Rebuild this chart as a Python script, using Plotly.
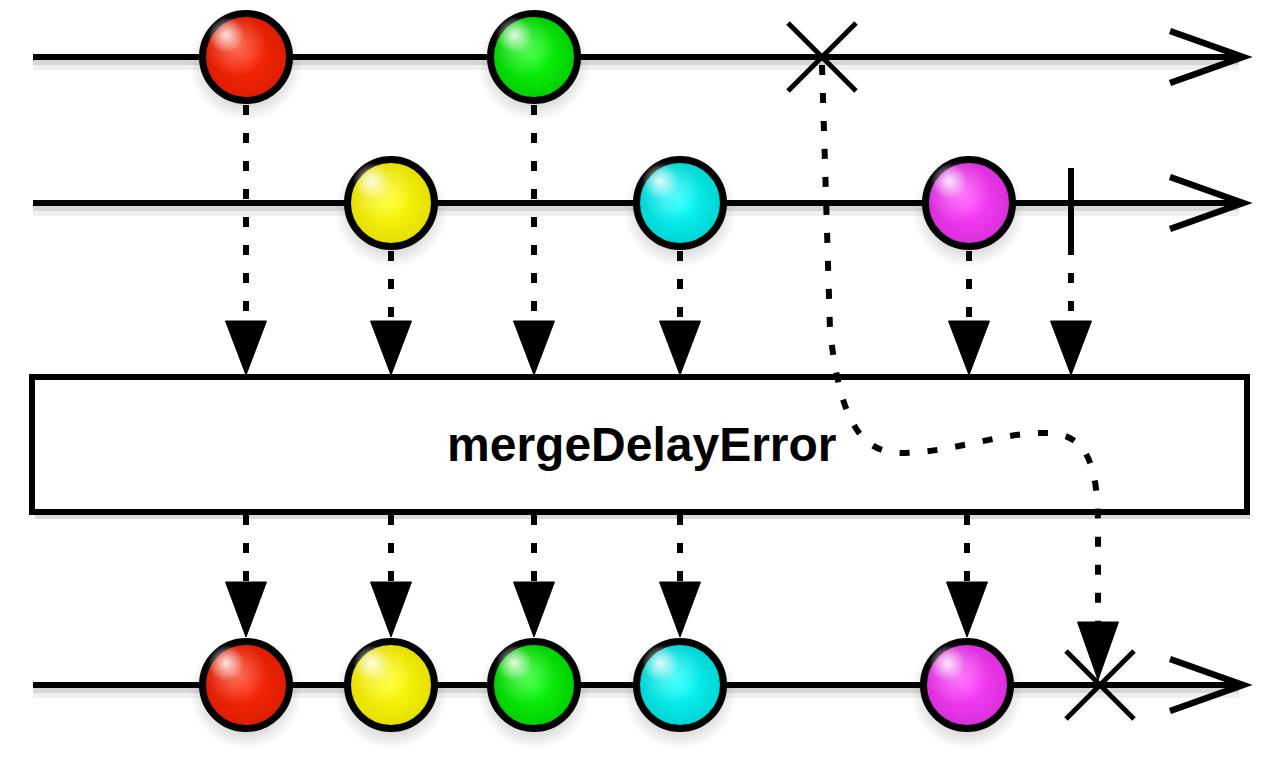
#!/usr/bin/env python3
"""
mergeDelayError marble diagram
==============================

Two source streams merged; the error of the first source is held back
until the second source completes.
"""

import plotly.graph_objects as go

# --- data: event times along the timeline (pixel scale of the canvas) ---
source1_times = [246, 534]
source1_colors = ["red", "green"]
source1_error = 822

source2_times = [391, 680, 969]
source2_colors = ["yellow", "cyan", "magenta"]
source2_complete = 1071

output_times = [246, 391, 534, 680, 967]
output_colors = ["red", "yellow", "green", "cyan", "magenta"]
output_error = 1100

operator_label = "mergeDelayError"

# colour palette: (centre, edge)
PALETTE = {
    "red": ("#ff2a0a", "#dc1c00"),
    "green": ("#10ff10", "#00cc00"),
    "yellow": ("#ffff10", "#e4dc00"),
    "cyan": ("#10ffff", "#00d0d0"),
    "magenta": ("#ff40ff", "#d82ed8"),
}

# --- layout constants ---
W, H = 1280, 760
PAGE_PAD = 8         # default body margin of the html page
LANE_Y = [57, 203, 685]
LANE_X0 = 33
LANE_X1 = 1243
BOX = (32, 377, 1247, 512)
MARBLE = 87          # marker diameter (border adds 6 px)
HEAD_W, HEAD_TOP, HEAD_TIP = 41, 321, 375
OUT_HEAD_TOP, OUT_HEAD_TIP = 582, 637
DOT = "10px,18px"

fig = go.Figure()
shapes = []


def line(x0, y0, x1, y1, width=6, dash=None, color="black", layer="above"):
    shapes.append(dict(type="line", x0=x0, y0=y0, x1=x1, y1=y1, layer=layer,
                       line=dict(color=color, width=width, dash=dash)))


def path(d, width=6, fill=None, dash=None, color="black", layer="above"):
    s = dict(type="path", path=d, layer=layer,
             line=dict(color=color, width=width, dash=dash))
    if fill:
        s["fillcolor"] = fill
    shapes.append(s)


def arrowhead(x, top, tip):
    path(f"M {x - HEAD_W / 2} {top} L {x + HEAD_W / 2} {top} L {x} {tip} Z",
         width=1, fill="black")


def lane(y):
    # soft shadow
    line(LANE_X0, y + 7, LANE_X1 - 4, y + 7, width=12, color="rgba(0,0,0,0.06)", layer="below")
    line(LANE_X0, y + 5, LANE_X1 - 4, y + 5, width=6, color="rgba(0,0,0,0.10)", layer="below")
    line(LANE_X0, y, LANE_X1 - 3, y, layer="below")
    path(f"M {LANE_X1 - 73} {y - 26} L {LANE_X1} {y} L {LANE_X1 - 73} {y + 26}",
         width=6.5, layer="below")


def cross(x, y, arm=34):
    line(x - arm, y - arm, x + arm, y + arm, width=5)
    line(x - arm, y + arm, x + arm, y - arm, width=5)


def marbles(xs, colors, y):
    n = len(xs)
    ys = [y] * n
    # drop shadow
    fig.add_trace(go.Scatter(
        x=xs, y=[y + 8] * n, mode="markers", hoverinfo="skip", showlegend=False,
        marker=dict(size=MARBLE + 26, color="rgba(0,0,0,0)", line=dict(width=0),
                    gradient=dict(type="radial", color="rgba(0,0,0,0.45)"))))
    # body
    fig.add_trace(go.Scatter(
        x=xs, y=ys, mode="markers", hoverinfo="skip", showlegend=False,
        marker=dict(size=MARBLE, color=[PALETTE[c][1] for c in colors],
                    line=dict(color="black", width=7),
                    gradient=dict(type="radial", color=[PALETTE[c][0] for c in colors]))))
    # broad sheen, then a small specular highlight
    fig.add_trace(go.Scatter(
        x=[v - 10 for v in xs], y=[y - 12] * n, mode="markers", hoverinfo="skip",
        showlegend=False,
        marker=dict(size=62, color="rgba(255,255,255,0)", line=dict(width=0),
                    gradient=dict(type="radial", color="rgba(255,255,255,0.35)"))))
    fig.add_trace(go.Scatter(
        x=[v - 20 for v in xs], y=[y - 22] * n, mode="markers", hoverinfo="skip",
        showlegend=False,
        marker=dict(size=36, color="rgba(255,255,255,0)", line=dict(width=0),
                    gradient=dict(type="radial", color="rgba(255,255,255,0.85)"))))


# --- lanes ---
for y in LANE_Y:
    lane(y)

# --- operator box ---
x0, y0, x1, y1 = BOX
shapes.append(dict(type="rect", x0=x0 + 3, y0=y0 + 6, x1=x1 + 3, y1=y1 + 7, layer="below",
                   line=dict(width=0), fillcolor="rgba(0,0,0,0.14)"))
shapes.append(dict(type="rect", x0=x0, y0=y0, x1=x1, y1=y1, layer="above",
                   line=dict(color="black", width=6), fillcolor="white"))

# --- dotted connectors into the operator ---
for x in source1_times:
    line(x, LANE_Y[0] + 48, x, HEAD_TOP + 2, dash=DOT)
    arrowhead(x, HEAD_TOP, HEAD_TIP)
for x in source2_times:
    line(x, LANE_Y[1] + 48, x, HEAD_TOP + 2, dash=DOT)
    arrowhead(x, HEAD_TOP, HEAD_TIP)
line(source2_complete, LANE_Y[1] + 42, source2_complete, HEAD_TOP + 2, dash=DOT)
arrowhead(source2_complete, HEAD_TOP, HEAD_TIP)

# --- dotted connectors out of the operator ---
for x in output_times:
    line(x, y1 + 3, x, OUT_HEAD_TOP + 2, dash=DOT)
    arrowhead(x, OUT_HEAD_TOP, OUT_HEAD_TIP)

# --- delayed error path ---
e1, e2 = source1_error, output_error - 2
path(f"M {e1} {LANE_Y[0] + 8} L {e1 + 8} 330 "
     f"C {e1 + 18} 420, {e1 + 38} 452, {e1 + 78} 453 "
     f"C {e1 + 130} 453, {e1 + 178} 432, {e1 + 226} 433 "
     f"C {e2 - 8} 434, {e2} 470, {e2} 530 "
     f"L {e2} 624", width=6, dash=DOT)
arrowhead(e2, 622, 680)

# --- terminal events ---
cross(source1_error, LANE_Y[0])
line(source2_complete, LANE_Y[1] - 35, source2_complete, LANE_Y[1] + 42, width=6)
cross(output_error, LANE_Y[2])

# --- marbles ---
marbles(source1_times, source1_colors, LANE_Y[0])
marbles(source2_times, source2_colors, LANE_Y[1])
marbles(output_times, output_colors, LANE_Y[2])

fig.add_annotation(x=(x0 + x1) / 2 + 2, y=(y0 + y1) / 2, text=operator_label,
                   showarrow=False, xanchor="center", yanchor="middle",
                   font=dict(family="Liberation Sans", size=48, color="black", weight="bold"))

# the page body adds an 8 px margin, so the figure window starts at (8, 8)
fig.update_layout(
    width=W - PAGE_PAD, height=H - PAGE_PAD,
    margin=dict(l=0, r=0, t=0, b=0),
    plot_bgcolor="white", paper_bgcolor="white",
    shapes=shapes,
    xaxis=dict(range=[PAGE_PAD, W], visible=False, fixedrange=True),
    yaxis=dict(range=[H, PAGE_PAD], visible=False, fixedrange=True),
    showlegend=False,
)

fig.write_html("out.html")
